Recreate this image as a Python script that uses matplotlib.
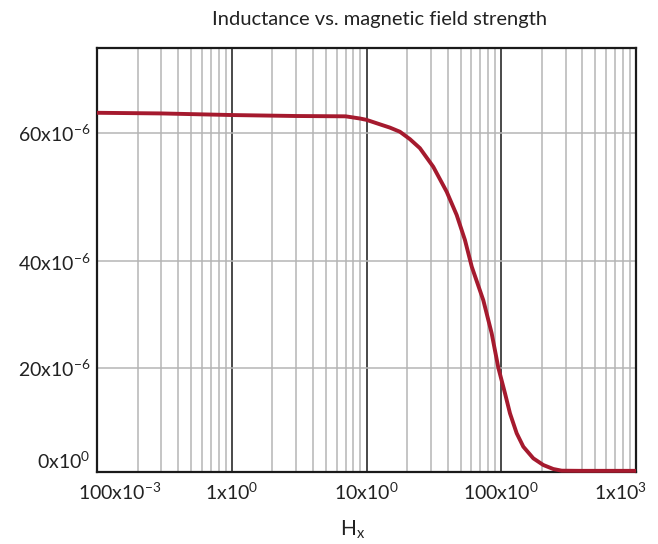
import numpy as np
import matplotlib
matplotlib.use("Agg")
import matplotlib.pyplot as plt
from matplotlib.ticker import FixedLocator, LogLocator, NullFormatter
from matplotlib.transforms import ScaledTranslation

plt.rcParams["font.family"] = ["Lato", "DejaVu Sans"]
plt.rcParams["mathtext.fontset"] = "custom"
plt.rcParams["mathtext.rm"] = "Lato"
plt.rcParams["mathtext.it"] = "Lato:italic"
plt.rcParams["mathtext.bf"] = "Lato:bold"

# Inductance (H) versus magnetic field strength H_x
field_h = [0.1, 0.3, 1.0, 3.0, 7.0, 9.0, 10.0, 12.6, 14.9, 17.7, 21.0, 24.9,
           31.3, 39.4, 46.7, 53.8, 60.4, 73.6, 84.9, 95.1, 106.6, 116.1,
           130.2, 145.8, 172.9, 205.1, 243.4, 280.9, 384.0, 1000.0]
inductance_uh = [63.1, 63.0, 62.75, 62.6, 62.55, 62.2, 62.0, 61.3, 60.8, 60.15,
                 59.0, 57.6, 54.7, 50.8, 47.2, 43.3, 39.0, 32.7, 26.5, 20.06,
                 15.15, 11.3, 7.48, 4.91, 2.68, 1.40, 0.63, 0.31, 0.28, 0.28]
inductance = np.array(inductance_uh) * 1e-6

x_ticks = [0.1, 1.0, 10.0, 100.0, 1000.0]
x_tick_labels = [r"100x10$^{-3}$", r"1x10$^{0}$", r"10x10$^{0}$",
                 r"100x10$^{0}$", r"1x10$^{3}$"]
y_ticks = [0.0, 20e-6, 40e-6, 60e-6]
y_tick_labels = [r"0x10$^{0}$", r"20x10$^{-6}$", r"40x10$^{-6}$", r"60x10$^{-6}$"]

# Vertical axis uses uneven spacing between its gridlines
_scale_v = np.array([-100e-6, 0.0, 20e-6, 40e-6, 60e-6, 200e-6])
_scale_f = np.array([-1.23, 0.0, 0.246, 0.4976, 0.8009, 2.924])


def _fwd(v):
    return np.interp(v, _scale_v, _scale_f)


def _inv(f):
    return np.interp(f, _scale_f, _scale_v)


fig = plt.figure(figsize=(6.58, 5.44), dpi=100)
ax = fig.add_axes([97 / 658, 1 - 472.3 / 544, (636 - 97) / 658, (472.3 - 48.3) / 544])

ax.set_xscale("log")
ax.set_yscale("function", functions=(_fwd, _inv))
ax.set_xlim(0.1, 1000)
ax.set_ylim(0.0, 73.13e-6)

# Grid: dark decade lines, light minor lines, light horizontal lines
ax.xaxis.set_major_locator(FixedLocator(x_ticks))
ax.xaxis.set_minor_locator(LogLocator(base=10, subs=np.arange(2, 10), numticks=20))
ax.xaxis.set_minor_formatter(NullFormatter())
ax.set_xticklabels(x_tick_labels)
ax.yaxis.set_major_locator(FixedLocator(y_ticks))
ax.yaxis.set_minor_locator(FixedLocator([]))
ax.set_yticklabels(y_tick_labels)

ax.grid(which="major", axis="x", color="#2a2a2a", linewidth=1.2, zorder=1)
ax.grid(which="minor", axis="x", color="#b5b5b5", linewidth=1.1, zorder=0)
ax.grid(which="major", axis="y", color="#b5b5b5", linewidth=1.1, zorder=0)
ax.set_axisbelow(True)

ax.tick_params(which="both", length=0)
ax.tick_params(axis="x", labelsize=14, pad=7, colors="#222222")
ax.tick_params(axis="y", labelsize=14, pad=5, colors="#222222")

for sp in ax.spines.values():
    sp.set_color("#1a1a1a")
    sp.set_linewidth(1.6)

ax.plot(field_h, inductance, color="#a51a2e", linewidth=2.8,
        solid_capstyle="butt", solid_joinstyle="round", zorder=3, clip_on=False)

# Nudge end labels so they sit inside the figure
xl = ax.get_xticklabels()
xl[0].set_transform(xl[0].get_transform() + ScaledTranslation(0.23, 0, fig.dpi_scale_trans))
xl[-1].set_transform(xl[-1].get_transform() + ScaledTranslation(-0.16, 0, fig.dpi_scale_trans))
yl = ax.get_yticklabels()
yl[0].set_transform(yl[0].get_transform() + ScaledTranslation(0, 0.13, fig.dpi_scale_trans))

fig.text(380 / 658, 1 - 20 / 544, "Inductance vs. magnetic field strength",
         ha="center", va="center", fontsize=14.5, color="#222222")
fig.text(353 / 658, 1 - 530 / 544, r"H$_{\mathrm{x}}$", ha="center", va="center",
         fontsize=15, color="#222222")

fig.savefig("out.png", dpi=100)
